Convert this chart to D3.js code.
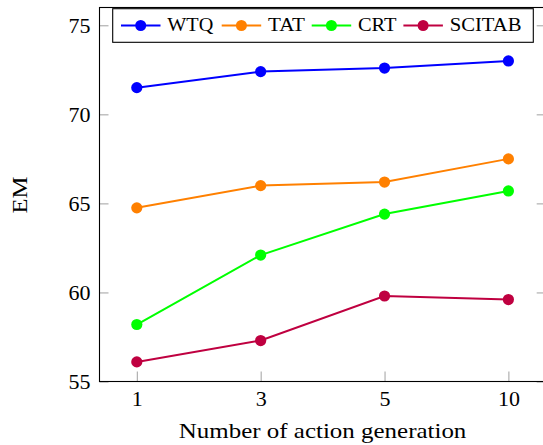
<!DOCTYPE html>
<html>
<head>
<meta charset="utf-8">
<script src="https://cdn.jsdelivr.net/npm/d3@7"></script>
<style>
  html, body { margin: 0; padding: 0; background: #fff; }
  svg { display: block; }
</style>
</head>
<body>
<svg id="chart" width="543" height="445"></svg>
<script>
const categories = ["1", "3", "5", "10"];
const seriesNames = ["WTQ", "TAT", "CRT", "SCITAB"];
const wtq = [71.5, 72.4, 72.6, 73.0];
const tat = [64.75, 66.0, 66.2, 67.5];
const crt = [58.2, 62.1, 64.4, 65.7];
const scitab = [56.1, 57.3, 59.8, 59.6];
const yTicks = [55, 60, 65, 70, 75];
const xTitle = "Number of action generation";
const yTitle = "EM";

const seriesValues = [wtq, tat, crt, scitab];
const colors = ["#0000ff", "#ff8000", "#00ff00", "#bf0040"];
const FONT = "'Liberation Serif', 'Times New Roman', serif";

const svg = d3.select("#chart").attr("font-family", FONT).style("font-family", FONT);
const L = 99.5, R = 545.7, T = 7.5, B = 381.5;

const x = d3.scalePoint().domain(categories).range([136.8, 508.4]);
const y = d3.scaleLinear().domain([55, 76]).range([B, T]);

// axes
const gy = svg.append("g").attr("transform", `translate(${L},0)`)
  .call(d3.axisLeft(y).tickValues(yTicks).tickSizeInner(-9).tickSizeOuter(0).tickPadding(9));
const gyr = svg.append("g").attr("transform", `translate(${R},0)`)
  .call(d3.axisRight(y).tickValues(yTicks).tickSizeInner(-9).tickSizeOuter(0).tickFormat(""));
const gx = svg.append("g").attr("transform", `translate(0,${B})`)
  .call(d3.axisBottom(x).tickSizeInner(-10).tickSizeOuter(0).tickPadding(8.5));

[gy, gyr, gx].forEach(g => {
  g.attr("font-family", FONT).attr("font-size", 22);
  g.select(".domain").remove();
  g.selectAll(".tick line").attr("stroke", "#a0a0a0").attr("stroke-width", 1);
  g.selectAll(".tick text").style("font-family", FONT)
    .style("font-size", "22px").attr("fill", "#000");
});

// frame
svg.append("rect").attr("x", L).attr("y", T).attr("width", R - L).attr("height", B - T)
  .attr("fill", "none").attr("stroke", "#000").attr("stroke-width", 1.1);

// series
const line = d3.line().x((d, i) => x(categories[i])).y(d => y(d));
seriesValues.forEach((vals, s) => {
  svg.append("path").datum(vals).attr("d", line)
    .attr("fill", "none").attr("stroke", colors[s]).attr("stroke-width", 2);
  svg.append("g").selectAll("circle").data(vals).join("circle")
    .attr("cx", (d, i) => x(categories[i])).attr("cy", d => y(d)).attr("r", 5.6)
    .attr("fill", colors[s]);
});

// legend
const lg = svg.append("g");
lg.append("rect").attr("x", 112.7).attr("y", 8.7).attr("width", 533.3 - 112.7).attr("height", 42.3 - 8.7)
  .attr("fill", "#fff").attr("stroke", "#000").attr("stroke-width", 1.1);
const legendLineStart = [121, 221.7, 311.7, 403.4];
const legendTextWidth = [46, 37, 38.5, 71.8];
seriesNames.forEach((name, s) => {
  const x0 = legendLineStart[s];
  lg.append("line").attr("x1", x0).attr("x2", x0 + 39.5).attr("y1", 25.5).attr("y2", 25.5)
    .attr("stroke", colors[s]).attr("stroke-width", 2);
  lg.append("circle").attr("cx", x0 + 19.7).attr("cy", 25.5).attr("r", 5.5).attr("fill", colors[s]);
  lg.append("text").attr("x", x0 + 46.3).attr("y", 30.5)
    .attr("textLength", legendTextWidth[s]).attr("lengthAdjust", "spacingAndGlyphs")
    .style("font-family", FONT).style("font-size", "19px").text(name);
});

// titles
svg.append("text").attr("x", 322.6).attr("y", 437.5).attr("text-anchor", "middle")
  .attr("textLength", 287.5).attr("lengthAdjust", "spacingAndGlyphs")
  .style("font-family", FONT).style("font-size", "22px").text(xTitle);
svg.append("text").attr("transform", "translate(26.5,195) rotate(-90)").attr("text-anchor", "middle")
  .attr("textLength", 37).attr("lengthAdjust", "spacingAndGlyphs")
  .style("font-family", FONT).style("font-size", "22px").text(yTitle);
</script>
</body>
</html>
